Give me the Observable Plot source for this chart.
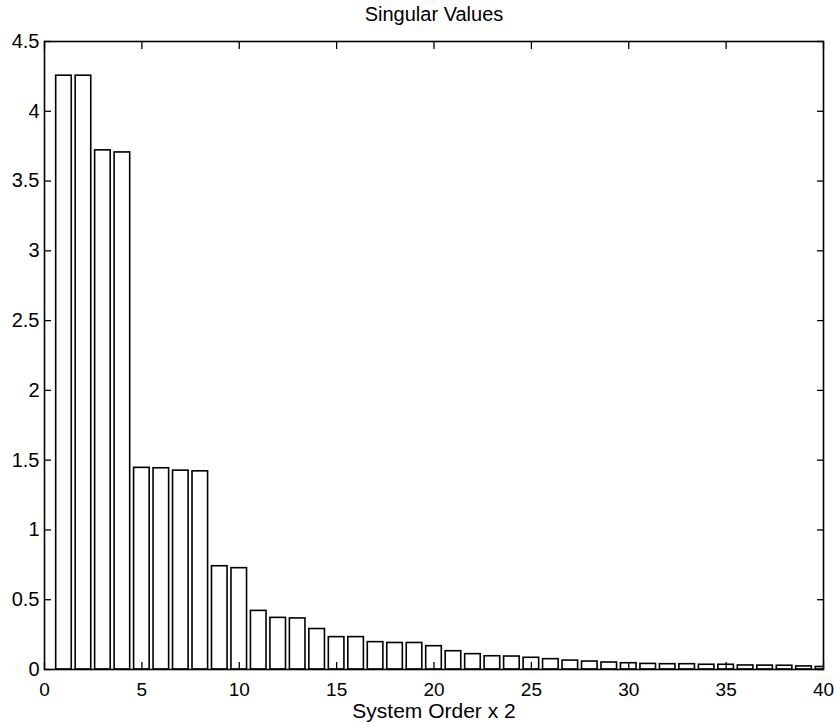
<!DOCTYPE html>
<html>
<head>
<meta charset="utf-8">
<script src="https://cdn.jsdelivr.net/npm/d3@7"></script>
<script src="https://cdn.jsdelivr.net/npm/@observablehq/plot@0.6"></script>
<style>
  html, body { margin: 0; padding: 0; background: #fff; }
  #chart svg { display: block; font-family: "Liberation Sans", Arial, Helvetica, sans-serif; }
</style>
</head>
<body>
<div id="chart"></div>
<script>
const title = "Singular Values";
const xLabel = "System Order x 2";
const orders = [1,2,3,4,5,6,7,8,9,10,11,12,13,14,15,16,17,18,19,20,21,22,23,24,25,26,27,28,29,30,31,32,33,34,35,36,37,38,39,40];
const singularValues = [4.255, 4.255, 3.72, 3.705, 1.445, 1.442, 1.425, 1.42, 0.74, 0.726,
  0.42, 0.37, 0.366, 0.29, 0.232, 0.232, 0.196, 0.19, 0.19, 0.167,
  0.131, 0.11, 0.095, 0.093, 0.084, 0.074, 0.064, 0.057, 0.05, 0.045,
  0.04, 0.038, 0.038, 0.034, 0.034, 0.029, 0.028, 0.027, 0.022, 0.018];
const xTicks = [0, 5, 10, 15, 20, 25, 30, 35, 40];
const yTicks = [0, 0.5, 1, 1.5, 2, 2.5, 3, 3.5, 4, 4.5];
const yTickLabels = ["0", "0.5", "1", "1.5", "2", "2.5", "3", "3.5", "4", "4.5"];

const data = orders.map((o, i) => ({order: o, value: singularValues[i]}));
const barHalf = 0.4;

const chart = Plot.plot({
  width: 834,
  height: 723,
  marginTop: 41,
  marginBottom: 54,
  marginLeft: 44,
  marginRight: 11,
  style: {fontFamily: '"Liberation Sans", Arial, sans-serif', color: "black", background: "white"},
  x: {domain: [0, 40]},
  y: {domain: [0, 4.5]},
  marks: [
    Plot.rectY(data, {
      x1: d => d.order - barHalf,
      x2: d => d.order + barHalf,
      y: "value",
      fill: "white",
      stroke: "black",
      strokeWidth: 1.6,
      clip: true
    }),
    Plot.frame({stroke: "black", strokeWidth: 1.6}),
    // inward ticks
    Plot.axisX({anchor: "bottom", ticks: xTicks, tickSize: -7, text: null, label: null, strokeWidth: 1.3}),
    Plot.axisX({anchor: "top", ticks: xTicks, tickSize: -7, text: null, label: null, strokeWidth: 1.3}),
    Plot.axisY({anchor: "left", ticks: yTicks, tickSize: -7, text: null, label: null, strokeWidth: 1.3}),
    Plot.axisY({anchor: "right", ticks: yTicks, tickSize: -7, text: null, label: null, strokeWidth: 1.3}),
    // labels
    Plot.axisX({anchor: "bottom", ticks: xTicks, tickSize: 0, tickPadding: 13, label: null, fontSize: 19, tickFormat: d => String(d)}),
    Plot.axisY({anchor: "left", ticks: yTicks, tickSize: 0, tickPadding: 5, label: null, fontSize: 20,
      tickFormat: d => yTickLabels[yTicks.indexOf(d)]}),
    Plot.text([title], {frameAnchor: "top", lineAnchor: "middle", dy: -27, fontSize: 20, fill: "black"}),
    Plot.text([xLabel], {frameAnchor: "bottom", lineAnchor: "middle", dy: 42, fontSize: 21, fill: "black"})
  ]
});
document.getElementById("chart").append(chart);
</script>
</body>
</html>
